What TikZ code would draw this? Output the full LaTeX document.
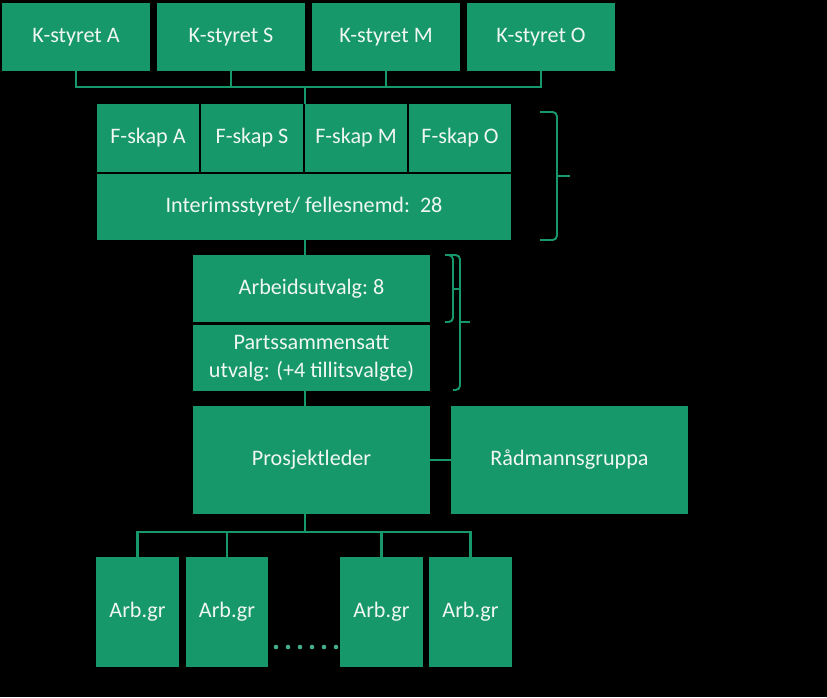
\documentclass[tikz,border=0pt]{standalone}
\usepackage{fontspec}
\setmainfont{Carlito}
\usetikzlibrary{positioning}

\definecolor{orggreen}{HTML}{16986A}
\definecolor{orgtext}{HTML}{F0F7F2}

\tikzset{
	orgbox/.style={fill=orggreen, draw=none, rectangle, inner sep=0pt, text=orgtext, align=center, font=\fontsize{12.6}{16}\selectfont},
	orgline/.style={draw=orggreen, line width=1.5pt},
	bracket/.style={draw=orggreen, line width=1.1pt, rounded corners=2.5pt}
}

\begin{document}
\begin{tikzpicture}[x=0.02cm, y=-0.02cm]
			\fill[black] (0,0) rectangle (827,697);

			\node (kA) [orgbox, minimum width=2.96cm, minimum height=1.36cm] at (76,37) {K-styret A};
			\node (kS) [orgbox, minimum width=2.96cm, minimum height=1.36cm] at (231,37) {K-styret S};
			\node (kM) [orgbox, minimum width=2.96cm, minimum height=1.36cm] at (386,37) {K-styret M};
			\node (kO) [orgbox, minimum width=2.96cm, minimum height=1.36cm] at (541,37) {K-styret O};

			\node (fA) [orgbox, minimum width=2.04cm, minimum height=1.36cm] at (148,138) {F-skap A};
			\node (fS) [orgbox, minimum width=2.04cm, minimum height=1.36cm] at (252,138) {F-skap S};
			\node (fM) [orgbox, minimum width=2.04cm, minimum height=1.36cm] at (356,138) {F-skap M};
			\node (fO) [orgbox, minimum width=2.04cm, minimum height=1.36cm] at (460,138) {F-skap O};
			\node (interim) [orgbox, minimum width=8.28cm, minimum height=1.32cm] at (304,207) {Interimsstyret/ fellesnemd:\ \ 28};

			\node (arbeid) [orgbox, minimum width=4.74cm, minimum height=1.34cm] at (311.5,288.5) {Arbeidsutvalg:\ 8};
			\node (parts) [orgbox, minimum width=4.74cm, minimum height=1.32cm] at (311.5,358) {Partssammensatt\\utvalg: (+4 tillitsvalgte)};

			\node (prosj) [orgbox, minimum width=4.74cm, minimum height=2.16cm] at (311.5,460) {Prosjektleder};
			\node (radm) [orgbox, minimum width=4.74cm, minimum height=2.16cm] at (569.5,460) {Rådmannsgruppa};

			\node (ag1) [orgbox, minimum width=1.66cm, minimum height=2.2cm] at (137.5,612) {Arb.gr};
			\node (ag2) [orgbox, minimum width=1.66cm, minimum height=2.2cm] at (227,612) {Arb.gr};
			\node (ag3) [orgbox, minimum width=1.66cm, minimum height=2.2cm] at (381.5,612) {Arb.gr};
			\node (ag4) [orgbox, minimum width=1.66cm, minimum height=2.2cm] at (470.5,612) {Arb.gr};

			\coordinate (topbus) at (305,87);
			\coordinate (lowbus) at (305,532);

			\draw[orgline] (kA.south) |- (topbus) -| (kO.south);
			\draw[orgline]
			(kS.south) -- (kS.south |- topbus)
			(kM.south) -- (kM.south |- topbus)
			(topbus) -- (topbus |- fS.north);

			\draw[orgline] (interim.south -| topbus) -- (arbeid.north -| topbus);
			\draw[orgline] (parts.south -| topbus) -- (prosj.north -| topbus);
			\draw[orgline] (prosj.east) -- (radm.west);

			\draw[orgline] (prosj.south -| lowbus) -- (lowbus);
			\draw[orgline] (ag1.north) |- (lowbus) -| (ag4.north);
			\draw[orgline]
			(ag2.north) -- (ag2.north |- lowbus)
			(ag3.north) -- (ag3.north |- lowbus);

			\foreach \dx in {0,...,5}
				\fill[orggreen!80!white] (276+12*\dx,647) circle (2.3);

			\draw[bracket] (540,112) -- (557,112) -- (557,240) -- (540,240);
			\draw[bracket] (557,176) -- (570,176);

			\draw[bracket] (445,255) -- (453,255) -- (453,322) -- (445,322);
			\draw[bracket] (453,289) -- (460,289);
			\draw[bracket] (445,255) -- (460,255) -- (460,390) -- (453,390);
			\draw[bracket] (460,322) -- (470,322);
\end{tikzpicture}
\end{document}
